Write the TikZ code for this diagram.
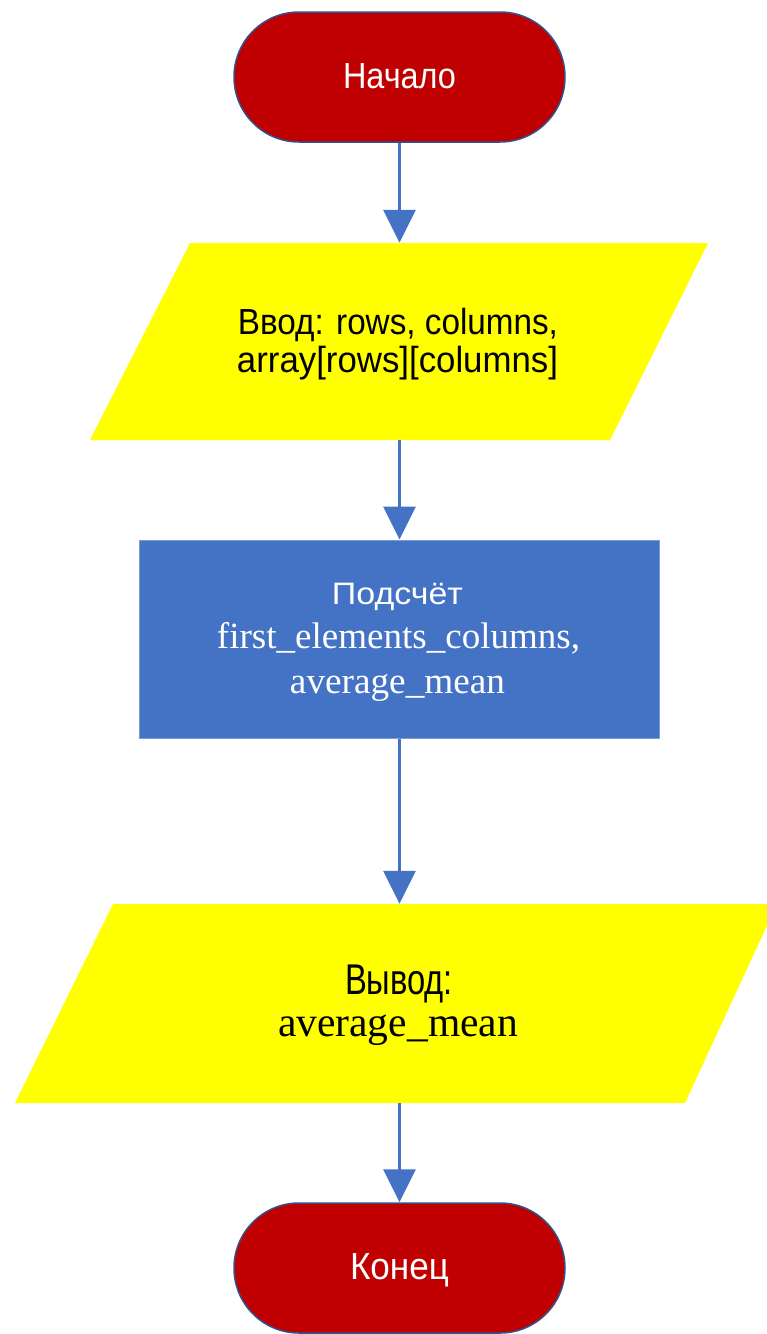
\documentclass[tikz,border=0pt]{standalone}
\usepackage{fontspec}
\usepackage{graphicx}
\setmainfont{Liberation Serif}
\setsansfont{Liberation Sans}
\usetikzlibrary{arrows.meta}
\definecolor{termred}{HTML}{C00000}
\definecolor{termedge}{HTML}{2F528F}
\definecolor{ioyellow}{HTML}{FFFF00}
\definecolor{procblue}{HTML}{4472C4}
\definecolor{arrowblue}{HTML}{4472C4}
\newcommand\fitw[2]{\resizebox{#1}{\height}{#2}}
\newcommand\sfsz[1]{\sffamily\fontsize{#1}{#1}\selectfont}
\newcommand\rmsz[1]{\rmfamily\fontsize{#1}{#1}\selectfont}
\begin{document}
\begin{tikzpicture}[x=1pt,y=-1pt,
  terminal/.style={rectangle, rounded corners=65pt, fill=termred, draw=termedge, line width=1.5pt,
    minimum width=331pt, minimum height=130pt, inner sep=0pt},
  iobox/.style={rectangle, minimum width=420pt, inner sep=0pt},
  procbox/.style={rectangle, fill=procblue, draw=procblue!70!white, line width=1pt,
    minimum width=520pt, minimum height=198pt, inner sep=0pt},
  lbl/.style={anchor=base, inner sep=0pt},
  flow/.style={draw=arrowblue, line width=3pt, -{Triangle[width=32pt,length=33pt]}}
]
\useasboundingbox (0,0) rectangle (767,1334);
\clip (0,0) rectangle (767,1334);

% start
\node[terminal] (start) at (399.5,77) {};
\node[lbl, text=white] (startlbl) at (399.5,88.3) {\sfsz{36.3}\fitw{113pt}{Начало}};

% input parallelogram
\fill[ioyellow] (190,243) -- (708,243) -- (610,440) -- (90,440) -- cycle;
\node[iobox, minimum height=197pt] (inp) at (399.5,341.5) {};
\node[lbl] (inplbla) at (398,334) {\sfsz{36.3}\fitw{320pt}{Ввод: rows, columns,}};
\node[lbl] (inplblb) at (397.5,372) {\sfsz{36.3}\fitw{321pt}{array[rows][columns]}};

% process
\node[procbox] (proc) at (399.5,639) {};
\node[lbl, text=white] (proclbla) at (397.5,604) {\sfsz{31}\fitw{131pt}{Подсчёт}};
\node[lbl, text=white] (proclblb) at (398.5,648) {\rmsz{37}\fitw{363pt}{first\_elements\_columns,}};
\node[lbl, text=white] (proclblc) at (397.5,693) {\rmsz{37}\fitw{215pt}{average\_mean}};

% output parallelogram
\fill[ioyellow] (113,904) -- (777,904) -- (685,1103) -- (15,1103) -- cycle;
\node[iobox, minimum height=199pt] (outp) at (399.5,1003.5) {};
\node[lbl] (outlbla) at (399,994) {\sfsz{43}\fitw{108pt}{Вывод:}};
\node[lbl] (outlblb) at (398,1036) {\rmsz{42}\fitw{240pt}{average\_mean}};

% end
\node[terminal] (stop) at (399.5,1268) {};
\node[lbl, text=white] (stoplbl) at (399.5,1279) {\sfsz{37.7}\fitw{99pt}{Конец}};

% connectors
\draw[flow] (start.south) -- (inp.north);
\draw[flow] (inp.south) -- (proc.north);
\draw[flow] (proc.south) -- (outp.north);
\draw[flow] (outp.south) -- (stop.north);
\end{tikzpicture}
\end{document}
